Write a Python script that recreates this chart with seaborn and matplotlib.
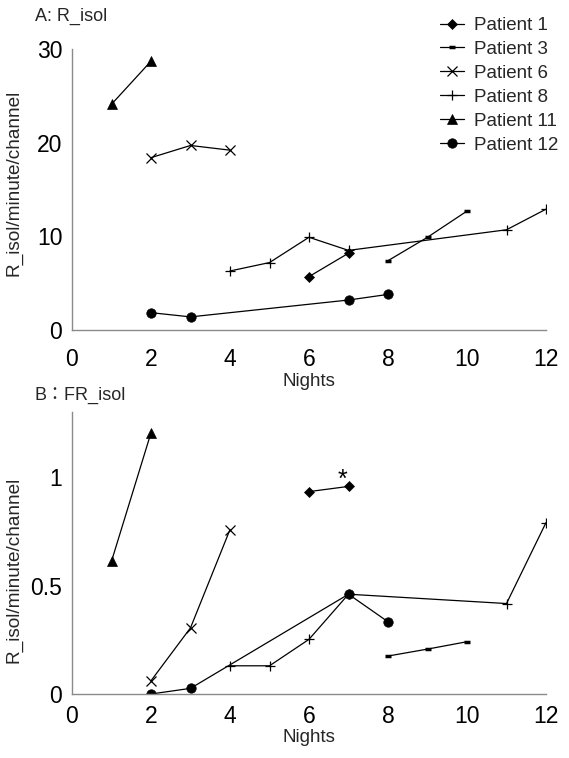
import matplotlib
matplotlib.use("Agg")
import matplotlib.pyplot as plt
import seaborn as sns
import pandas as pd

sns.set_theme(style="white")
plt.rcParams['font.family'] = ['Liberation Sans', 'Noto Sans CJK JP', 'DejaVu Sans']

patients = ["Patient 1", "Patient 3", "Patient 6", "Patient 8", "Patient 11", "Patient 12"]

# Panel A: R_isol
a_nights = {
    "Patient 1": [6, 7],
    "Patient 3": [8, 9, 10],
    "Patient 6": [2, 3, 4],
    "Patient 8": [4, 5, 6, 7, 11, 12],
    "Patient 11": [1, 2],
    "Patient 12": [2, 3, 7, 8],
}
a_values = {
    "Patient 1": [5.7, 8.2],
    "Patient 3": [7.4, 9.9, 12.7],
    "Patient 6": [18.4, 19.7, 19.2],
    "Patient 8": [6.3, 7.2, 9.9, 8.5, 10.7, 12.9],
    "Patient 11": [24.1, 28.7],
    "Patient 12": [1.85, 1.4, 3.2, 3.8],
}

# Panel B: FR_isol
b_nights = {
    "Patient 1": [6, 7],
    "Patient 3": [8, 9, 10],
    "Patient 6": [2, 3, 4],
    "Patient 8": [4, 5, 6, 7, 11, 12],
    "Patient 11": [1, 2],
    "Patient 12": [2, 3, 7, 8],
}
b_values = {
    "Patient 1": [0.933, 0.957],
    "Patient 3": [0.175, 0.207, 0.241],
    "Patient 6": [0.061, 0.305, 0.758],
    "Patient 8": [0.13, 0.13, 0.252, 0.46, 0.417, 0.79],
    "Patient 11": [0.612, 1.204],
    "Patient 12": [0.0, 0.026, 0.46, 0.333],
}

x_ticks = [0, 2, 4, 6, 8, 10, 12]
a_yticks = [0, 10, 20, 30]
b_yticks = [0, 0.5, 1]
b_yticklabels = ["0", "0.5", "1"]

styles = {
    "Patient 1": dict(marker="D", markersize=5.2, mfc="black", mec="black", mew=0.5),
    "Patient 3": dict(marker="_", markersize=4, mfc="black", mec="black", mew=2.5),
    "Patient 6": dict(marker="x", markersize=6.5, mfc="none", mec="black", mew=0.9),
    "Patient 8": dict(marker="+", markersize=7, mfc="none", mec="black", mew=0.9),
    "Patient 11": dict(marker="^", markersize=6.8, mfc="black", mec="black", mew=0.5),
    "Patient 12": dict(marker="o", markersize=6.8, mfc="black", mec="black", mew=0.5),
}

W, H = 569, 758
fig = plt.figure(figsize=(W / 100, H / 100), dpi=100)

def fx(px):
    return px / W

def fy(py):
    return 1 - py / H

axA = fig.add_axes([fx(72), fy(330), fx(546) - fx(72), fy(49) - fy(330)])
axB = fig.add_axes([fx(72), fy(694), fx(546) - fx(72), fy(412) - fy(694)])

def draw(ax, nights, values, ylim, yticks, yticklabels, xpad):
    for p in patients:
        df = pd.DataFrame({"Nights": nights[p], "val": values[p]})
        sns.lineplot(data=df, x="Nights", y="val", ax=ax, color="black",
                     linewidth=0.9, label=p, legend=False, **styles[p])
    ax.set_xlim(0, 12)
    ax.set_ylim(*ylim)
    ax.set_xticks(x_ticks)
    ax.set_xticklabels([str(t) for t in x_ticks], fontsize=16.5)
    ax.set_yticks(yticks)
    ax.set_yticklabels(yticklabels, fontsize=16.5)
    ax.set_xlabel("Nights", fontsize=13.5, labelpad=0)
    ax.set_ylabel("R_isol/minute/channel", fontsize=13.7, labelpad=4)
    for s in ["top", "right"]:
        ax.spines[s].set_visible(False)
    for s in ["left", "bottom"]:
        ax.spines[s].set_color("#8a8a8a")
        ax.spines[s].set_linewidth(1.0)
    ax.tick_params(axis="both", direction="out", length=4, width=1,
                   color="#8a8a8a", pad=3, labelcolor="black")
    ax.tick_params(axis="x", pad=xpad)
    ax.grid(False)
    ax.set_facecolor("white")

draw(axA, a_nights, a_values, (0, 30), a_yticks, [str(t) for t in a_yticks], 9)
draw(axB, b_nights, b_values, (0, 1.3), b_yticks, b_yticklabels, 4)

axA.yaxis.set_label_coords(-0.105, 0.523)
axB.yaxis.set_label_coords(-0.105, 0.44)
axA.xaxis.set_label_coords(0.5, -0.152)
axB.xaxis.set_label_coords(0.5, -0.125)

axB.text(6.84, 0.955, "*", fontsize=18, ha="center", va="baseline", color="black")

handles, labels = axA.get_legend_handles_labels()
fig.legend(handles, labels, loc="upper left", bbox_to_anchor=(fx(440), fy(17)),
           frameon=False, fontsize=13.5, handlelength=1.3, handletextpad=0.5,
           labelspacing=0.36, borderaxespad=0, borderpad=0)

fig.text(fx(35), fy(16), "A: R_isol", fontsize=13, ha="left", va="center")
fig.text(fx(35), fy(395), "B：FR_isol", fontsize=13, ha="left", va="center")

fig.savefig("out.png", dpi=100, facecolor="white")
